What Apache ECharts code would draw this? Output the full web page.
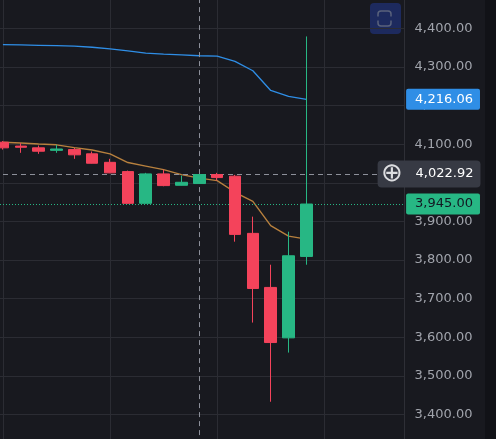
<!DOCTYPE html>
<html>
<head>
<meta charset="utf-8">
<script src="https://cdn.jsdelivr.net/npm/echarts@6/dist/echarts.min.js"></script>
<style>
html,body{margin:0;padding:0;background:#18191f;}
#c{width:496px;height:439px;}
</style>
</head>
<body>
<div id="c"></div>
<script>
// ---- data ----
const candleLabels = ['b01','b02','b03','b04','b05','b06','b07','b08','b09','b10','b11','b12','b13','b14','b15','b16','b17','b18'];
const opens  = [4105, 4095, 4090.5, 4084, 4086, 4075, 4053, 4029, 3946.8, 4023, 3993.5, 3998, 4021.3, 4017, 3869, 3729, 3598.4, 3809.3];
const closes = [4090.5, 4092, 4081.7, 4087.5, 4072.4, 4050.6, 4025.7, 3946.8, 4023, 3992.7, 4001.3, 4021.3, 4013.5, 3866.4, 3726.3, 3586.3, 3811, 3945];
const lows   = [4086, 4077.6, 4075, 4077.6, 4062, 4050, 4025, 3946, 3946, 3991, 3993, 3997, 4005.7, 3847.5, 3638, 3433, 3560.3, 3787.8];
const highs  = [4108, 4102.5, 4096.5, 4098.3, 4090.5, 4081, 4062, 4031.6, 4025.7, 4034, 4018.7, 4023, 4025.7, 4020.5, 3912.3, 3787.8, 3873.4, 4379];
const maSlow = [4357.7, 4357, 4356, 4355, 4354, 4351, 4347, 4341.6, 4336, 4333, 4331, 4329, 4328, 4314.4, 4290, 4239, 4223.6, 4216.06];
const maFast = [4105, 4103, 4100.4, 4098.3, 4091, 4085, 4075, 4052.4, 4043.3, 4034, 4021, 4012, 4005.7, 3975.4, 3952, 3889, 3862, 3854];
const yMin = 3300, yMax = 4500, yStep = 100;
const crosshairIndex = 11;
const crosshairPrice = 4022.92;
const lastPrice = 3945.00;
const maSlowLast = 4216.06;
const gridIndices = [0, 6, 12, 18];
const emptySlots = 5;

// ---- helpers ----
function fmt(v) {
  const n = Math.round(Number(v) * 100);
  const neg = n < 0;
  const a = Math.abs(n);
  const intPart = Math.floor(a / 100).toString();
  const dec = (a % 100).toString().padStart(2, '0');
  const withCommas = intPart.replace(/\B(?=(\d{3})+(?!\d))/g, ',');
  return (neg ? '-' : '') + withCommas + '.' + dec;
}
const categories = candleLabels.concat(Array.from({length: emptySlots}, (_, i) => 'pad' + i));
const candleData = opens.map((o, i) => [o, closes[i], lows[i], highs[i]]);

const FONT = 'DejaVu Sans';
const UP = '#27b784';
const DOWN = '#f4435b';
const GRIDC = '#2b2c33';
const BLUE = '#2f8ee6';

const chart = echarts.init(document.getElementById('c'), null, {renderer: 'canvas'});
const option = {
  backgroundColor: '#18191f',
  animation: false,
  grid: {left: -6, top: -10.3, width: 410.6, height: 463.4, containLabel: false, outerBoundsMode: 'none'},
  xAxis: {
    type: 'category', data: categories, boundaryGap: true,
    axisLine: {show: false}, axisTick: {show: false}, axisLabel: {show: false}, splitLine: {show: false}
  },
  yAxis: {
    type: 'value', position: 'right', min: yMin, max: yMax, interval: yStep,
    axisLine: {show: true, lineStyle: {color: '#2e2f36'}},
    axisTick: {show: false},
    axisLabel: {margin: 10, color: '#a1a4ac', fontFamily: FONT, fontSize: 13, formatter: fmt},
    splitLine: {show: true, lineStyle: {color: GRIDC, width: 1}}
  },
  series: [
    {
      type: 'line', name: 'MA slow', data: maSlow, z: 1, symbol: 'none', smooth: false,
      lineStyle: {color: BLUE, width: 1.3}, silent: true,
      markLine: {
        z: 0.5, silent: true, symbol: 'none', animation: false,
        label: {show: false},
        lineStyle: {color: GRIDC, width: 1, type: 'solid'},
        data: gridIndices.map(i => ({xAxis: i}))
      }
    },
    {
      type: 'line', name: 'MA fast', data: maFast, z: 1, symbol: 'none', smooth: false,
      lineStyle: {color: '#b8813e', width: 1.4}, silent: true
    },
    {
      type: 'candlestick', name: 'price', data: candleData, z: 3, clip: false,
      barWidth: 12,
      itemStyle: {color: UP, color0: DOWN, borderColor: UP, borderColor0: DOWN, borderWidth: 1},
      markLine: {
        z: 2, silent: true, symbol: 'none', animation: false,
        data: [
          {xAxis: crosshairIndex, lineStyle: {color: '#8d909a', width: 1, type: [5, 4]}, label: {show: false}},
          {yAxis: crosshairPrice, lineStyle: {color: '#8d909a', width: 1, type: [5, 4]},
            label: {show: true, position: 'end', distance: [-27, 0],
              formatter: '{i|\u2295}{t|' + fmt(crosshairPrice) + '}',
              backgroundColor: '#373a44', borderRadius: 4, padding: [5, 7, 5, 3],
              rich: {
                i: {fontFamily: FONT, fontWeight: 200, fontSize: 26, lineHeight: 17, color: '#dcdde0'},
                t: {fontFamily: FONT, fontSize: 13, lineHeight: 17, color: '#ffffff', padding: [0, 0, 0, 13]}
              }}},
          {yAxis: lastPrice, lineStyle: {color: UP, width: 1, type: [1, 2]},
            label: {show: true, position: 'end', distance: [1.5, 0], formatter: fmt(lastPrice),
              fontFamily: FONT, fontSize: 13, lineHeight: 15, color: '#131722',
              backgroundColor: UP, borderRadius: 2, padding: [3, 7, 3, 9]}},
          {yAxis: maSlowLast, lineStyle: {color: 'rgba(0,0,0,0)', width: 1},
            label: {show: true, position: 'end', distance: [1.5, 0], formatter: fmt(maSlowLast),
              fontFamily: FONT, fontSize: 13, lineHeight: 15, color: '#ffffff',
              backgroundColor: BLUE, borderRadius: 2, padding: [3, 7, 3, 9]}}
        ]
      }
    }
  ],
  graphic: [
    {type: 'rect', left: 485, top: 0, shape: {width: 11, height: 439}, style: {fill: '#111217'}, z: 10},
    {type: 'group', left: 370, top: 3, z: 10, children: [
      {type: 'rect', shape: {x: 0, y: 0, width: 31, height: 31, r: 4}, style: {fill: '#1d2a5e'}},
      {type: 'rect', shape: {x: 8, y: 8, width: 13, height: 15, r: 3}, style: {fill: 'none', stroke: '#59627c', lineWidth: 1.5}},
      {type: 'rect', shape: {x: 6, y: 13.5, width: 17, height: 4}, style: {fill: '#1d2a5e'}}
    ]}
  ]
};
chart.setOption(option);
</script>
</body>
</html>
